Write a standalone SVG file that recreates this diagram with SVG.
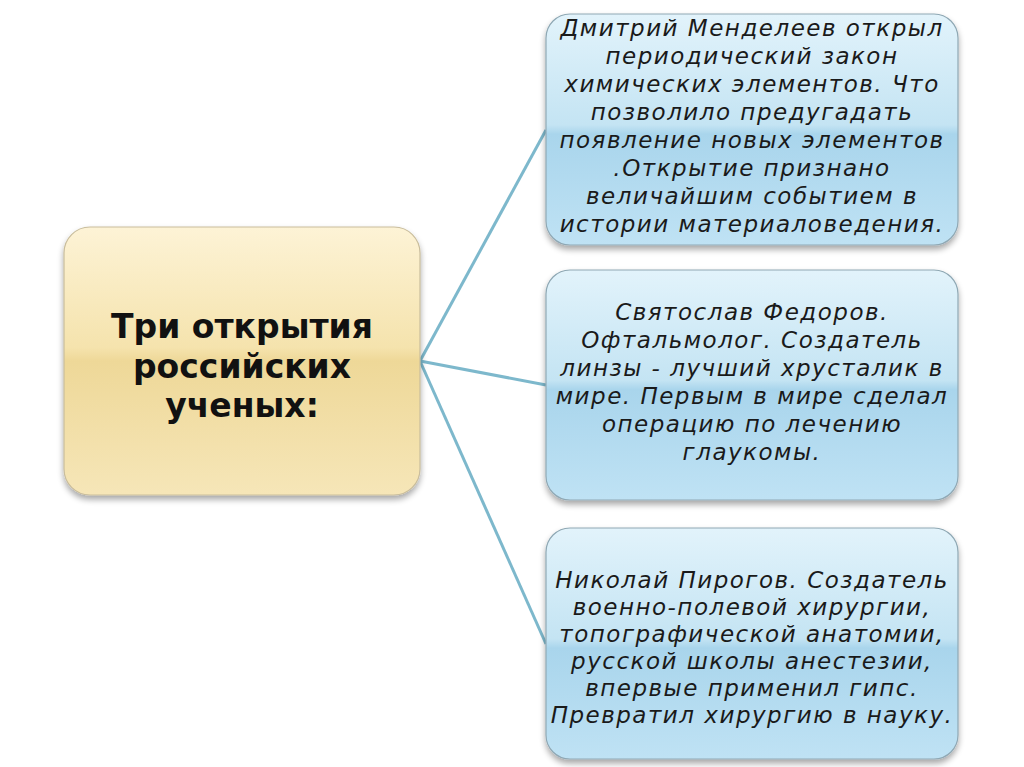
<svg xmlns="http://www.w3.org/2000/svg" width="1024" height="767" viewBox="0 0 1024 767">
<defs>
<linearGradient id="gold" x1="0" y1="0" x2="0" y2="1">
<stop offset="0" stop-color="#fdf3d6"/>
<stop offset="0.45" stop-color="#f5e3ad"/>
<stop offset="0.5" stop-color="#eed898"/>
<stop offset="1" stop-color="#f6e6b8"/>
</linearGradient>
<linearGradient id="blue" x1="0" y1="0" x2="0" y2="1">
<stop offset="0" stop-color="#e2f3fb"/>
<stop offset="0.48" stop-color="#c4e4f3"/>
<stop offset="0.52" stop-color="#a9d5ec"/>
<stop offset="1" stop-color="#bfe2f4"/>
</linearGradient>
<filter id="sh" x="-10%" y="-10%" width="120%" height="125%">
<feGaussianBlur in="SourceAlpha" stdDeviation="3"/>
<feOffset dx="0" dy="4" result="b"/>
<feComponentTransfer><feFuncA type="linear" slope="0.35"/></feComponentTransfer>
<feMerge><feMergeNode/><feMergeNode in="SourceGraphic"/></feMerge>
</filter>
</defs>
<style>
.gold{fill:url(#gold);stroke:#c9bd9c;stroke-width:1.2}
.blue{fill:url(#blue);stroke:#8fa8b4;stroke-width:1.2}
.t{font-family:"DejaVu Sans",sans-serif;font-style:italic;font-size:23px;letter-spacing:1.5px;fill:#1a1a1a;text-anchor:middle}
.h{font-family:"DejaVu Sans",sans-serif;font-weight:bold;font-size:33px;fill:#111;text-anchor:middle}
.c{stroke:#7db8cc;stroke-width:3;fill:none}
</style>
<g id="connectors">
<line class="c" x1="420" y1="361" x2="546" y2="130"/>
<line class="c" x1="420" y1="361" x2="546" y2="385"/>
<line class="c" x1="420" y1="361" x2="546" y2="644"/>
</g>
<g id="root">
<rect class="gold" x="64" y="227" width="356" height="268" rx="26" filter="url(#sh)"/>
<text class="h" x="242" y="338">Три открытия</text>
<text class="h" x="242" y="378">российских</text>
<text class="h" x="242" y="417">ученых:</text>
</g>
<g id="mendeleev">
<rect class="blue" x="546" y="14" width="412" height="231" rx="24" filter="url(#sh)"/>
<text class="t" x="752" y="36">Дмитрий Менделеев открыл</text>
<text class="t" x="752" y="64">периодический закон</text>
<text class="t" x="752" y="92">химических элементов. Что</text>
<text class="t" x="752" y="120">позволило предугадать</text>
<text class="t" x="752" y="148">появление новых элементов</text>
<text class="t" x="752" y="176">.Открытие признано</text>
<text class="t" x="752" y="204">величайшим событием в</text>
<text class="t" x="752" y="232">истории материаловедения.</text>
</g>
<g id="fedorov">
<rect class="blue" x="546" y="270" width="412" height="230" rx="24" filter="url(#sh)"/>
<text class="t" x="752" y="320">Святослав Федоров.</text>
<text class="t" x="752" y="348">Офтальмолог.  Создатель</text>
<text class="t" x="752" y="376">линзы - лучший хрусталик в</text>
<text class="t" x="752" y="404">мире. Первым в мире сделал</text>
<text class="t" x="752" y="432">операцию по лечению</text>
<text class="t" x="752" y="460">глаукомы.</text>
</g>
<g id="pirogov">
<rect class="blue" x="546" y="528" width="412" height="231" rx="24" filter="url(#sh)"/>
<text class="t" x="752" y="588">Николай Пирогов. Создатель</text>
<text class="t" x="752" y="615">военно-полевой хирургии,</text>
<text class="t" x="752" y="642">топографической анатомии,</text>
<text class="t" x="752" y="669">русской школы анестезии,</text>
<text class="t" x="752" y="696">впервые применил гипс.</text>
<text class="t" x="752" y="723">Превратил хирургию в науку.</text>
</g>
</svg>
